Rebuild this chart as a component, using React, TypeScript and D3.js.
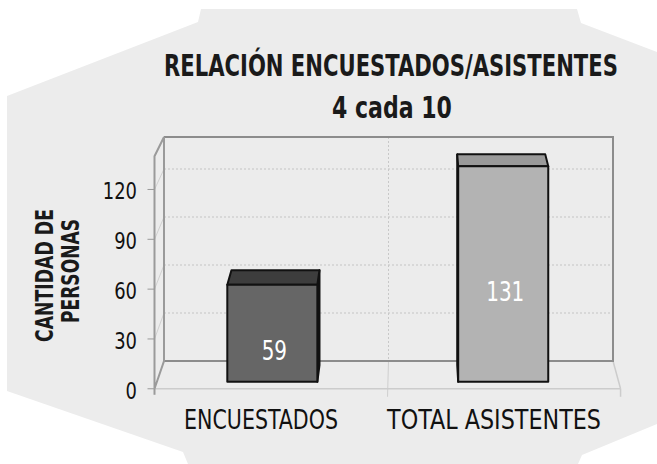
import React, { useLayoutEffect, useRef, useState } from "react";
import * as d3 from "d3";

// ---- data ----
const categories = ["ENCUESTADOS", "TOTAL ASISTENTES"];
const values = [59, 131];
const yTicks = [0, 30, 60, 90, 120];
const yDomainMax = 140;
const title = "RELACIÓN ENCUESTADOS/ASISTENTES";
const subtitle = "4 cada 10";
const yTitleLines = ["CANTIDAD DE", "PERSONAS"];

// ---- layout ----
const W = 657;
const H = 464;
const FONT = "'Liberation Sans Narrow', 'DejaVu Sans Condensed', 'Liberation Sans', sans-serif";
const K = 0.038; // perspective growth from back (d=0) to front (d=1)
const CX = 414;
const CY = -370;
const proj = (xb: number, yb: number, d: number): [number, number] => {
  const s = 1 + K * d;
  return [CX + (xb - CX) * s, CY + (yb - CY) * s];
};
const pts = (arr: [number, number][]) => arr.map((p) => p.join(",")).join(" ");

const barColors = [
  { face: "#666666", top: "#3d3d3d", side: "#262626" },
  { face: "#b3b3b3", top: "#9a9a9a", side: "#1e1e1e" },
];
const catLabelWidths = [154, 214];

type FitProps = {
  x: number;
  y: number;
  width: number;
  anchor?: "start" | "middle" | "end";
  fontSize: number;
  weight?: string;
  fill?: string;
  rotate?: number;
  children: string;
};

function FitText({ x, y, width, anchor = "start", fontSize, weight = "normal", fill = "#1a1a1a", rotate = 0, children }: FitProps) {
  const ref = useRef<SVGTextElement>(null);
  const [sx, setSx] = useState(1);
  useLayoutEffect(() => {
    if (ref.current) {
      const w = ref.current.getComputedTextLength();
      if (w > 0) setSx(width / w);
    }
  }, [width, children, fontSize]);
  return (
    <g transform={`translate(${x},${y}) rotate(${rotate}) scale(${sx},1)`}>
      <text ref={ref} x={0} y={0} fontSize={fontSize} fontWeight={weight} textAnchor={anchor} fill={fill}>
        {children}
      </text>
    </g>
  );
}

export default function App() {
  const x = d3.scaleBand<string>().domain(categories).range([164, 613]).padding(0);
  const y = d3.scaleLinear().domain([0, yDomainMax]).range([361, 137]);
  const x0 = x.range()[0];
  const x1 = x.range()[1];
  const yTop = y(yDomainMax);
  const yBot = y(0);

  const bgPoly: [number, number][] = [
    [201, 9], [577, 9], [581, 23], [657, 52], [657, 424], [582, 455], [578, 464],
    [188, 464], [183, 452], [7, 391], [7, 96], [198, 22],
  ];

  const backWall: [number, number][] = [[x0, yTop], [x1, yTop], [x1, yBot], [x0, yBot]];
  const leftWall: [number, number][] = [proj(x0, yTop, 1), [x0, yTop], [x0, yBot], proj(x0, yBot, 1)];
  const floor: [number, number][] = [[x0, yBot], [x1, yBot], proj(x1, yBot, 1), proj(x0, yBot, 1)];

  const d0 = 0.15;
  const d1 = 0.75;
  const barFrac = 0.39;

  const divider = x(categories[1])!;

  return (
    <svg
      width={W}
      height={H}
      style={{ position: "absolute", left: 0, top: 0, background: "#ffffff" }}
      fontFamily={FONT}
    >
      <polygon points={pts(bgPoly)} fill="#ececec" />

      {/* title */}
      <FitText x={164} y={76} width={454} fontSize={30} weight="bold">{title}</FitText>
      <FitText x={332} y={118} width={120} fontSize={30} weight="bold">{subtitle}</FitText>

      {/* walls */}
      <polygon points={pts(floor)} fill="#ececec" stroke="none" />
      <polygon points={pts(backWall)} fill="#ececec" stroke="none" />
      <polygon points={pts(leftWall)} fill="#ececec" stroke="none" />

      {/* gridlines on back wall */}
      {yTicks.filter((t) => t > 0).map((t) => (
        <line key={"g" + t} x1={x0} x2={x1} y1={y(t)} y2={y(t)} stroke="#c4c4c4" strokeWidth={1} strokeDasharray="2,2" />
      ))}
      {/* gridlines on left wall */}
      {yTicks.filter((t) => t > 0).map((t) => {
        const f = proj(x0, y(t), 1);
        return <line key={"lw" + t} x1={x0} y1={y(t)} x2={f[0]} y2={f[1]} stroke="#d0d0d0" strokeWidth={1} />;
      })}
      {/* category divider */}
      <line x1={divider} x2={divider} y1={yTop} y2={yBot} stroke="#c8c8c8" strokeWidth={1} strokeDasharray="2,2" />
      {(() => {
        const f = proj(divider, yBot, 1);
        return <line x1={divider} y1={yBot} x2={f[0]} y2={f[1] + 8} stroke="#cfcfcf" strokeWidth={1} />;
      })()}

      {/* floor edges */}
      {(() => {
        const fl = proj(x0, yBot, 1);
        const fr = proj(x1, yBot, 1);
        return (
          <g>
            <line x1={fl[0]} y1={fl[1]} x2={fr[0]} y2={fr[1]} stroke="#cccccc" strokeWidth={1.5} />
            <line x1={x1} y1={yBot} x2={fr[0]} y2={fr[1]} stroke="#cccccc" strokeWidth={1.5} />
            <line x1={fr[0]} y1={fr[1]} x2={fr[0]} y2={fr[1] + 8} stroke="#cccccc" strokeWidth={1.5} />
          </g>
        );
      })()}

      {/* back wall border */}
      <polyline points={pts([[x0, yBot], [x1, yBot], [x1, yTop], [x0, yTop]])} fill="none" stroke="#8c8c8c" strokeWidth={2} />
      {/* left wall border */}
      <polygon points={pts(leftWall)} fill="none" stroke="#9a9a9a" strokeWidth={2} />
      {(() => {
        const fb = proj(x0, yBot, 1);
        return <line x1={fb[0]} y1={fb[1]} x2={fb[0]} y2={fb[1] + 6} stroke="#9a9a9a" strokeWidth={2} />;
      })()}

      {/* y ticks + labels */}
      {yTicks.map((t) => {
        const f = proj(x0, y(t), 1);
        return (
          <g key={"t" + t}>
            <line x1={f[0] - 7} x2={f[0]} y1={f[1]} y2={f[1]} stroke="#9a9a9a" strokeWidth={1} />
            <FitText x={137} y={f[1] + 10} width={String(t).length * 11.4} anchor="end" fontSize={23} fill="#111">
              {String(t)}
            </FitText>
          </g>
        );
      })}

      {/* y axis title */}
      <FitText x={53} y={275.5} rotate={-90} width={133} anchor="middle" fontSize={25} weight="bold">
        {yTitleLines[0]}
      </FitText>
      <FitText x={79} y={271} rotate={-90} width={104} anchor="middle" fontSize={25} weight="bold">
        {yTitleLines[1]}
      </FitText>

      {/* bars */}
      {categories.map((c, i) => {
        const cx = x(c)! + x.bandwidth() / 2;
        const w = x.bandwidth() * barFrac;
        const xl = cx - w / 2;
        const xr = cx + w / 2;
        const yt = y(values[i]);
        const yb = y(0);
        const col = barColors[i];
        const front: [number, number][] = [proj(xl, yt, d1), proj(xr, yt, d1), proj(xr, yb, d1), proj(xl, yb, d1)];
        const top: [number, number][] = [proj(xl, yt, d0), proj(xr, yt, d0), proj(xr, yt, d1), proj(xl, yt, d1)];
        const sx = cx < CX ? xr : xl;
        const side: [number, number][] = [proj(sx, yt, d1), proj(sx, yt, d0), proj(sx, yb, d0), proj(sx, yb, d1)];
        const mid = proj(cx, y(values[i] / 2), d1);
        return (
          <g key={c}>
            <polygon points={pts(side)} fill={col.side} stroke="#111" strokeWidth={2} strokeLinejoin="round" />
            <polygon points={pts(top)} fill={col.top} stroke="#111" strokeWidth={2} strokeLinejoin="round" />
            <polygon points={pts(front)} fill={col.face} stroke="#111" strokeWidth={2} strokeLinejoin="round" />
            <FitText x={mid[0] + 2} y={mid[1] + 27} width={String(values[i]).length * 12.7} anchor="middle" fontSize={26} fill="#ffffff">
              {String(values[i])}
            </FitText>
          </g>
        );
      })}

      {/* category labels */}
      {categories.map((c, i) => {
        const p = proj(x(c)! + x.bandwidth() / 2, y(0), 1);
        return (
          <FitText key={"c" + c} x={p[0] - 10} y={429} width={catLabelWidths[i]} anchor="middle" fontSize={27} fill="#111">
            {c}
          </FitText>
        );
      })}
    </svg>
  );
}
